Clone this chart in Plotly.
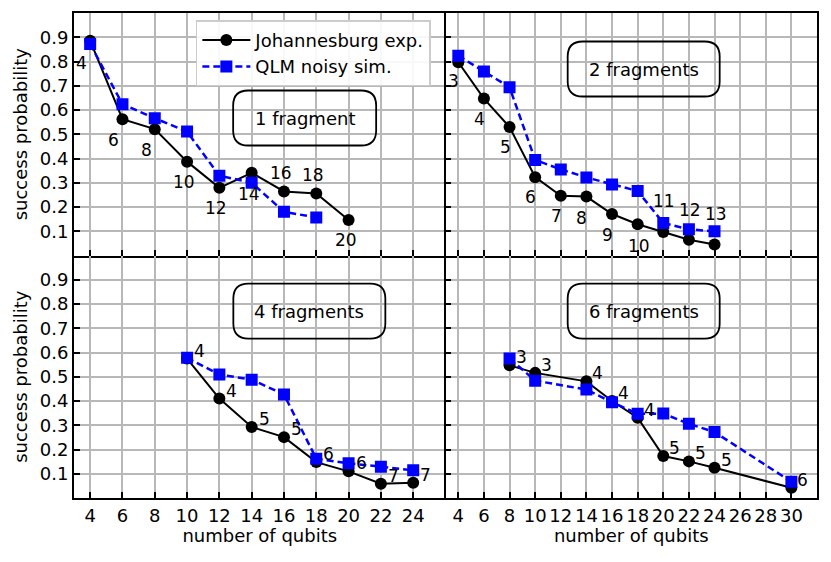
import plotly.graph_objects as go
from plotly.subplots import make_subplots

# --- data ---
x_1frag = [4, 6, 8, 10, 12, 14, 16, 18, 20]
exp_1frag = [0.886, 0.562, 0.521, 0.387, 0.279, 0.341, 0.264, 0.256, 0.146]
x_1frag_sim = [4, 6, 8, 10, 12, 14, 16, 18]
sim_1frag = [0.872, 0.624, 0.566, 0.511, 0.329, 0.300, 0.180, 0.157]
lab_1frag = ["4", "6", "8", "10", "12", "14", "16", "18", "20"]

x_2frag = [4, 6, 8, 10, 12, 14, 16, 18, 20, 22, 24]
exp_2frag = [0.797, 0.647, 0.530, 0.323, 0.246, 0.243, 0.171, 0.129, 0.097, 0.065, 0.045]
sim_2frag = [0.824, 0.759, 0.694, 0.394, 0.355, 0.322, 0.293, 0.266, 0.134, 0.108, 0.100]
lab_2frag = ["3", "4", "5", "6", "7", "8", "9", "10", "11", "12", "13"]

x_4frag = [10, 12, 14, 16, 18, 20, 22, 24]
exp_4frag = [0.575, 0.410, 0.293, 0.251, 0.148, 0.110, 0.059, 0.063]
sim_4frag = [0.578, 0.509, 0.488, 0.427, 0.162, 0.143, 0.129, 0.114]
lab_4frag = ["4", "4", "5", "5", "6", "6", "7", "7"]

x_6frag = [8, 10, 14, 16, 18, 20, 22, 24, 30]
exp_6frag = [0.547, 0.516, 0.481, 0.400, 0.331, 0.173, 0.151, 0.125, 0.042]
sim_6frag = [0.575, 0.484, 0.447, 0.395, 0.347, 0.348, 0.306, 0.272, 0.067]
lab_6frag = ["3", "3", "4", "4", "4", "5", "5", "5", "6"]

box_text = ["1 fragment", "2 fragments", "4 fragments", "6 fragments"]
box_pos = [(17.28, 0.567), (18.47, 0.769), (17.57, 0.771), (18.47, 0.771)]

xticks_left = list(range(4, 25, 2))
xticks_right = list(range(4, 31, 2))
yticks = [0.1, 0.2, 0.3, 0.4, 0.5, 0.6, 0.7, 0.8, 0.9]
ytick_text = ["0.1", "0.2", "0.3", "0.4", "0.5", "0.6", "0.7", "0.8", "0.9"]

FONT = "DejaVu Sans"
FS = 18
PAGE_PAD = 8  # browser's default body margin shifts the plot by this much

fig = make_subplots(rows=2, cols=2, horizontal_spacing=0, vertical_spacing=0)

panels = [
    (1, 1, x_1frag, exp_1frag, x_1frag_sim, sim_1frag, lab_1frag),
    (1, 2, x_2frag, exp_2frag, x_2frag, sim_2frag, lab_2frag),
    (2, 1, x_4frag, exp_4frag, x_4frag, sim_4frag, lab_4frag),
    (2, 2, x_6frag, exp_6frag, x_6frag, sim_6frag, lab_6frag),
]

# label offsets in pixels (left edge shift, vertical shift; + is up)
label_dy = {
    (1, 1): [-22, -21, -21, -20, -20, -21, 18, 18, -20],
    (1, 2): [-19, -20, -20, -20, -20, -21, -21, -22, 31, 30, 31],
    (2, 1): [8] * 8,
    (2, 2): [8] * 9,
}
label_dx = {(1, 1): -16, (1, 2): -12, (2, 1): 5, (2, 2): 4}

for i, (r, c, xe, ye, xs, ys, labs) in enumerate(panels):
    fig.add_trace(go.Scatter(
        x=xe, y=ye, mode="lines+markers", name="Johannesburg exp.",
        line=dict(color="black", width=2),
        marker=dict(symbol="circle", size=12, color="black"),
        showlegend=(i == 0), legendrank=1), row=r, col=c)
    fig.add_trace(go.Scatter(
        x=xs, y=ys, mode="lines+markers", name="QLM noisy sim.",
        line=dict(color="#0000ff", width=2.5, dash="7px,4px"),
        marker=dict(symbol="square", size=12, color="#0000ff"),
        showlegend=(i == 0), legendrank=2), row=r, col=c)
    for k, (xv, yv, t) in enumerate(zip(xe, ye, labs)):
        fig.add_annotation(x=xv, y=yv, text=t, showarrow=False,
                           xanchor="left", yanchor="middle",
                           xshift=label_dx[(r, c)], yshift=label_dy[(r, c)][k],
                           font=dict(family=FONT, size=FS - 1, color="black"),
                           row=r, col=c)


def rounded_box(w, h, rad):
    a, b = w / 2, h / 2
    return (f"M {-a + rad},{-b} L {a - rad},{-b} Q {a},{-b} {a},{-b + rad} "
            f"L {a},{b - rad} Q {a},{b} {a - rad},{b} L {-a + rad},{b} "
            f"Q {-a},{b} {-a},{b - rad} L {-a},{-b + rad} Q {-a},{-b} {-a + rad},{-b} Z")


box_w = [143, 152, 152, 152]
for (r, c), t, (bx, by), w in zip([(1, 1), (1, 2), (2, 1), (2, 2)], box_text, box_pos, box_w):
    fig.add_shape(type="path", xsizemode="pixel", ysizemode="pixel",
                  xanchor=bx, yanchor=by, path=rounded_box(w, 55, 15),
                  line=dict(color="black", width=1.8), fillcolor="rgba(0,0,0,0)",
                  row=r, col=c)
    fig.add_annotation(x=bx, y=by, text=t, showarrow=False,
                       font=dict(family=FONT, size=FS, color="black"), row=r, col=c)

axis_common = dict(showline=True, linecolor="black", linewidth=1.8,
                   ticks="inside", ticklen=6, tickwidth=1.5, tickcolor="black",
                   showgrid=True, gridcolor="#b8b8b8", gridwidth=1.5, automargin=False,
                   zeroline=False, tickfont=dict(family=FONT, size=FS, color="black"))

# outer frame: shared edges are drawn once only
for r in (1, 2):
    fig.update_xaxes(axis_common, range=[3, 26], tickvals=xticks_left,
                     showticklabels=(r == 2), mirror=(r == 1), row=r, col=1)
    fig.update_xaxes(axis_common, range=[3, 32], tickvals=xticks_right,
                     showticklabels=(r == 2), mirror=(r == 1), row=r, col=2)
    fig.update_yaxes(axis_common, range=[0, 1.0], tickvals=yticks, ticktext=ytick_text,
                     showticklabels=True, mirror=False, row=r, col=1,
                     title=dict(text="success probability", standoff=8,
                                font=dict(family=FONT, size=FS, color="black")))
    fig.update_yaxes(axis_common, range=[0, 1.0], tickvals=yticks,
                     showticklabels=False, mirror=True, row=r, col=2)

for c in (1, 2):
    fig.update_xaxes(title=dict(text="number of qubits", standoff=4,
                                font=dict(family=FONT, size=FS, color="black")),
                     row=2, col=c)

fig.update_layout(
    width=831 - PAGE_PAD, height=562 - PAGE_PAD,
    margin=dict(l=74 - PAGE_PAD, r=14, t=13 - PAGE_PAD, b=64),
    plot_bgcolor="white", paper_bgcolor="white",
    font=dict(family=FONT, size=FS, color="black"),
    legend=dict(x=0.164, y=0.985, xanchor="left", yanchor="top",
                bgcolor="rgba(255,255,255,0.9)", bordercolor="#cccccc", borderwidth=1.5,
                font=dict(family=FONT, size=FS, color="black"),
                itemwidth=48, tracegroupgap=0),
)

fig.write_html("out.html")
